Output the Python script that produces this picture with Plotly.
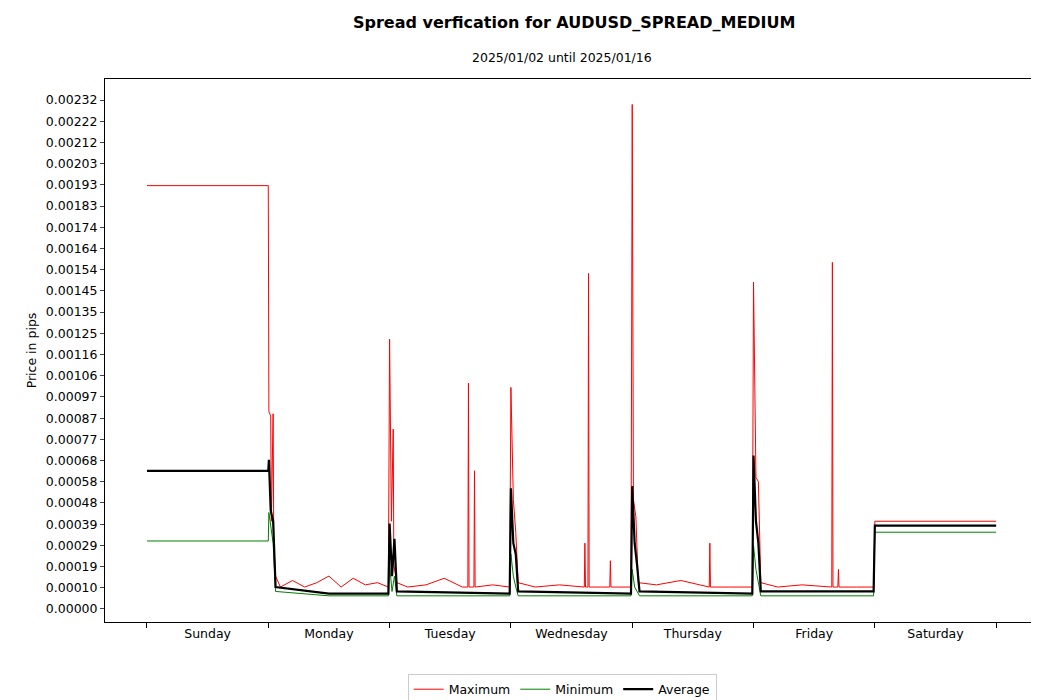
import plotly.graph_objects as go

days = ["Sunday", "Monday", "Tuesday", "Wednesday", "Thursday", "Friday", "Saturday"]
ytick_labels = ["0.00000","0.00010","0.00019","0.00029","0.00039","0.00048","0.00058","0.00068",
                "0.00077","0.00087","0.00097","0.00106","0.00116","0.00125","0.00135","0.00145",
                "0.00154","0.00164","0.00174","0.00183","0.00193","0.00203","0.00212","0.00222","0.00232"]

max_x = [0,1.0,1.005,1.02,1.025,1.04,1.045,1.06,
         1.1,1.2,1.3,1.4,1.5,1.6,1.7,1.8,1.9,1.99,
         2.0,2.015,2.03,2.035,2.06,
         2.15,2.3,2.45,2.6,
         2.645,2.65,2.655,2.695,2.70,2.705,
         2.85,2.99,
         3.0,3.02,3.04,3.06,
         3.2,3.4,
         3.605,3.61,3.615,3.635,3.64,3.645,
         3.8,3.815,3.82,3.825,
         3.99,4.0,4.01,4.03,4.05,
         4.2,4.4,
         4.635,4.64,4.645,
         4.8,4.99,
         5.0,5.02,5.04,5.06,
         5.2,5.4,
         5.645,5.65,5.655,5.695,5.70,5.705,
         5.85,5.99,6.0,7.0]
max_y = [0.00193,0.00193,0.0009,0.00088,0.0004,0.00089,0.0003,0.00015,
         0.0001,0.00013,0.0001,0.00012,0.00015,0.0001,0.00014,0.00011,0.00012,0.0001,
         0.00123,0.0004,0.00082,0.0002,0.00012,
         0.0001,0.00011,0.00014,0.0001,
         0.0001,0.00103,0.0001,0.0001,0.00063,0.0001,
         0.00011,0.0001,
         0.00101,0.0005,0.00035,0.00012,
         0.0001,0.00011,
         0.0001,0.0003,0.0001,0.0001,0.00153,0.0001,
         0.0001,0.0001,0.00022,0.0001,
         0.0001,0.0023,0.0005,0.00042,0.00012,
         0.00011,0.00013,
         0.0001,0.0003,0.0001,
         0.0001,0.0001,
         0.00149,0.0006,0.00058,0.00012,
         0.0001,0.00011,
         0.0001,0.00158,0.0001,0.0001,0.00018,0.0001,
         0.0001,0.0001,0.0004,0.0004]

avg_x = [0,1.0,1.005,1.02,1.04,1.06,1.5,1.99,2.0,2.02,2.04,2.06,2.99,3.0,3.02,3.04,3.06,
         3.99,4.0,4.02,4.04,4.06,4.99,5.0,5.02,5.04,5.06,5.99,6.0,7.0]
avg_y = [0.00063,0.00063,0.00068,0.00045,0.0004,0.0001,0.00007,0.00007,0.00039,0.00015,0.00032,
         0.00008,0.00007,0.00055,0.0003,0.00025,0.00008,0.00007,0.00056,0.0003,0.0002,0.00008,
         0.00007,0.0007,0.0004,0.0003,0.00008,0.00008,0.00038,0.00038]
min_y = [0.00031,0.00031,0.00044,0.00038,0.0003,0.00008,0.00006,0.00006,0.0002,0.00008,0.00015,
         0.00006,0.00006,0.00025,0.00015,0.0001,0.00006,0.00006,0.00018,0.0001,0.00008,0.00006,
         0.00006,0.00029,0.00018,0.00012,0.00006,0.00006,0.00035,0.00035]

fig = go.Figure()
fig.add_trace(go.Scatter(x=max_x, y=max_y, mode="lines", name="Maximum", line=dict(color="red", width=1)))
fig.add_trace(go.Scatter(x=avg_x, y=min_y, mode="lines", name="Minimum", line=dict(color="green", width=1)))
fig.add_trace(go.Scatter(x=avg_x, y=avg_y, mode="lines", name="Average", line=dict(color="black", width=2.2)))

fig.update_layout(
    width=1039, height=700, paper_bgcolor="white", plot_bgcolor="white",
    font=dict(family="DejaVu Sans", size=12.5, color="black"),
    margin=dict(l=97, r=9, t=71, b=86, autoexpand=False),
    title=dict(text="<b>Spread verfication for AUDUSD_SPREAD_MEDIUM</b>", x=0.545, xanchor="center",
               y=0.988, yanchor="top", font=dict(size=16)),
    annotations=[dict(text="2025/01/02 until 2025/01/16", xref="paper", yref="paper", x=0.49,
                      y=1.022, yanchor="bottom", showarrow=False, font=dict(size=12.5))],
    showlegend=True,
    legend=dict(orientation="h", x=0.49, xanchor="center", y=-0.095, yanchor="top",
                bordercolor="#ccc", borderwidth=1, font=dict(size=12.5)),
    xaxis=dict(range=[-0.346, 7.345], tickvals=[0.5+i for i in range(7)], ticktext=days,
               ticks="", automargin=False, showgrid=False, zeroline=False, showline=True, mirror=True,
               linecolor="black",
               minor=dict(tickvals=list(range(8)), ticks="outside", ticklen=5, tickcolor="black")),
    yaxis=dict(title=dict(text="Price in pips", standoff=6, font=dict(size=12.5)),
               range=[-0.0000593, 0.002416], automargin=False,
               tickvals=[i*0.00232/24 for i in range(25)], ticktext=ytick_labels,
               ticks="outside", ticklen=4, showgrid=False, zeroline=False,
               showline=True, mirror=True, linecolor="black"),
)
fig.write_html("out.html")
